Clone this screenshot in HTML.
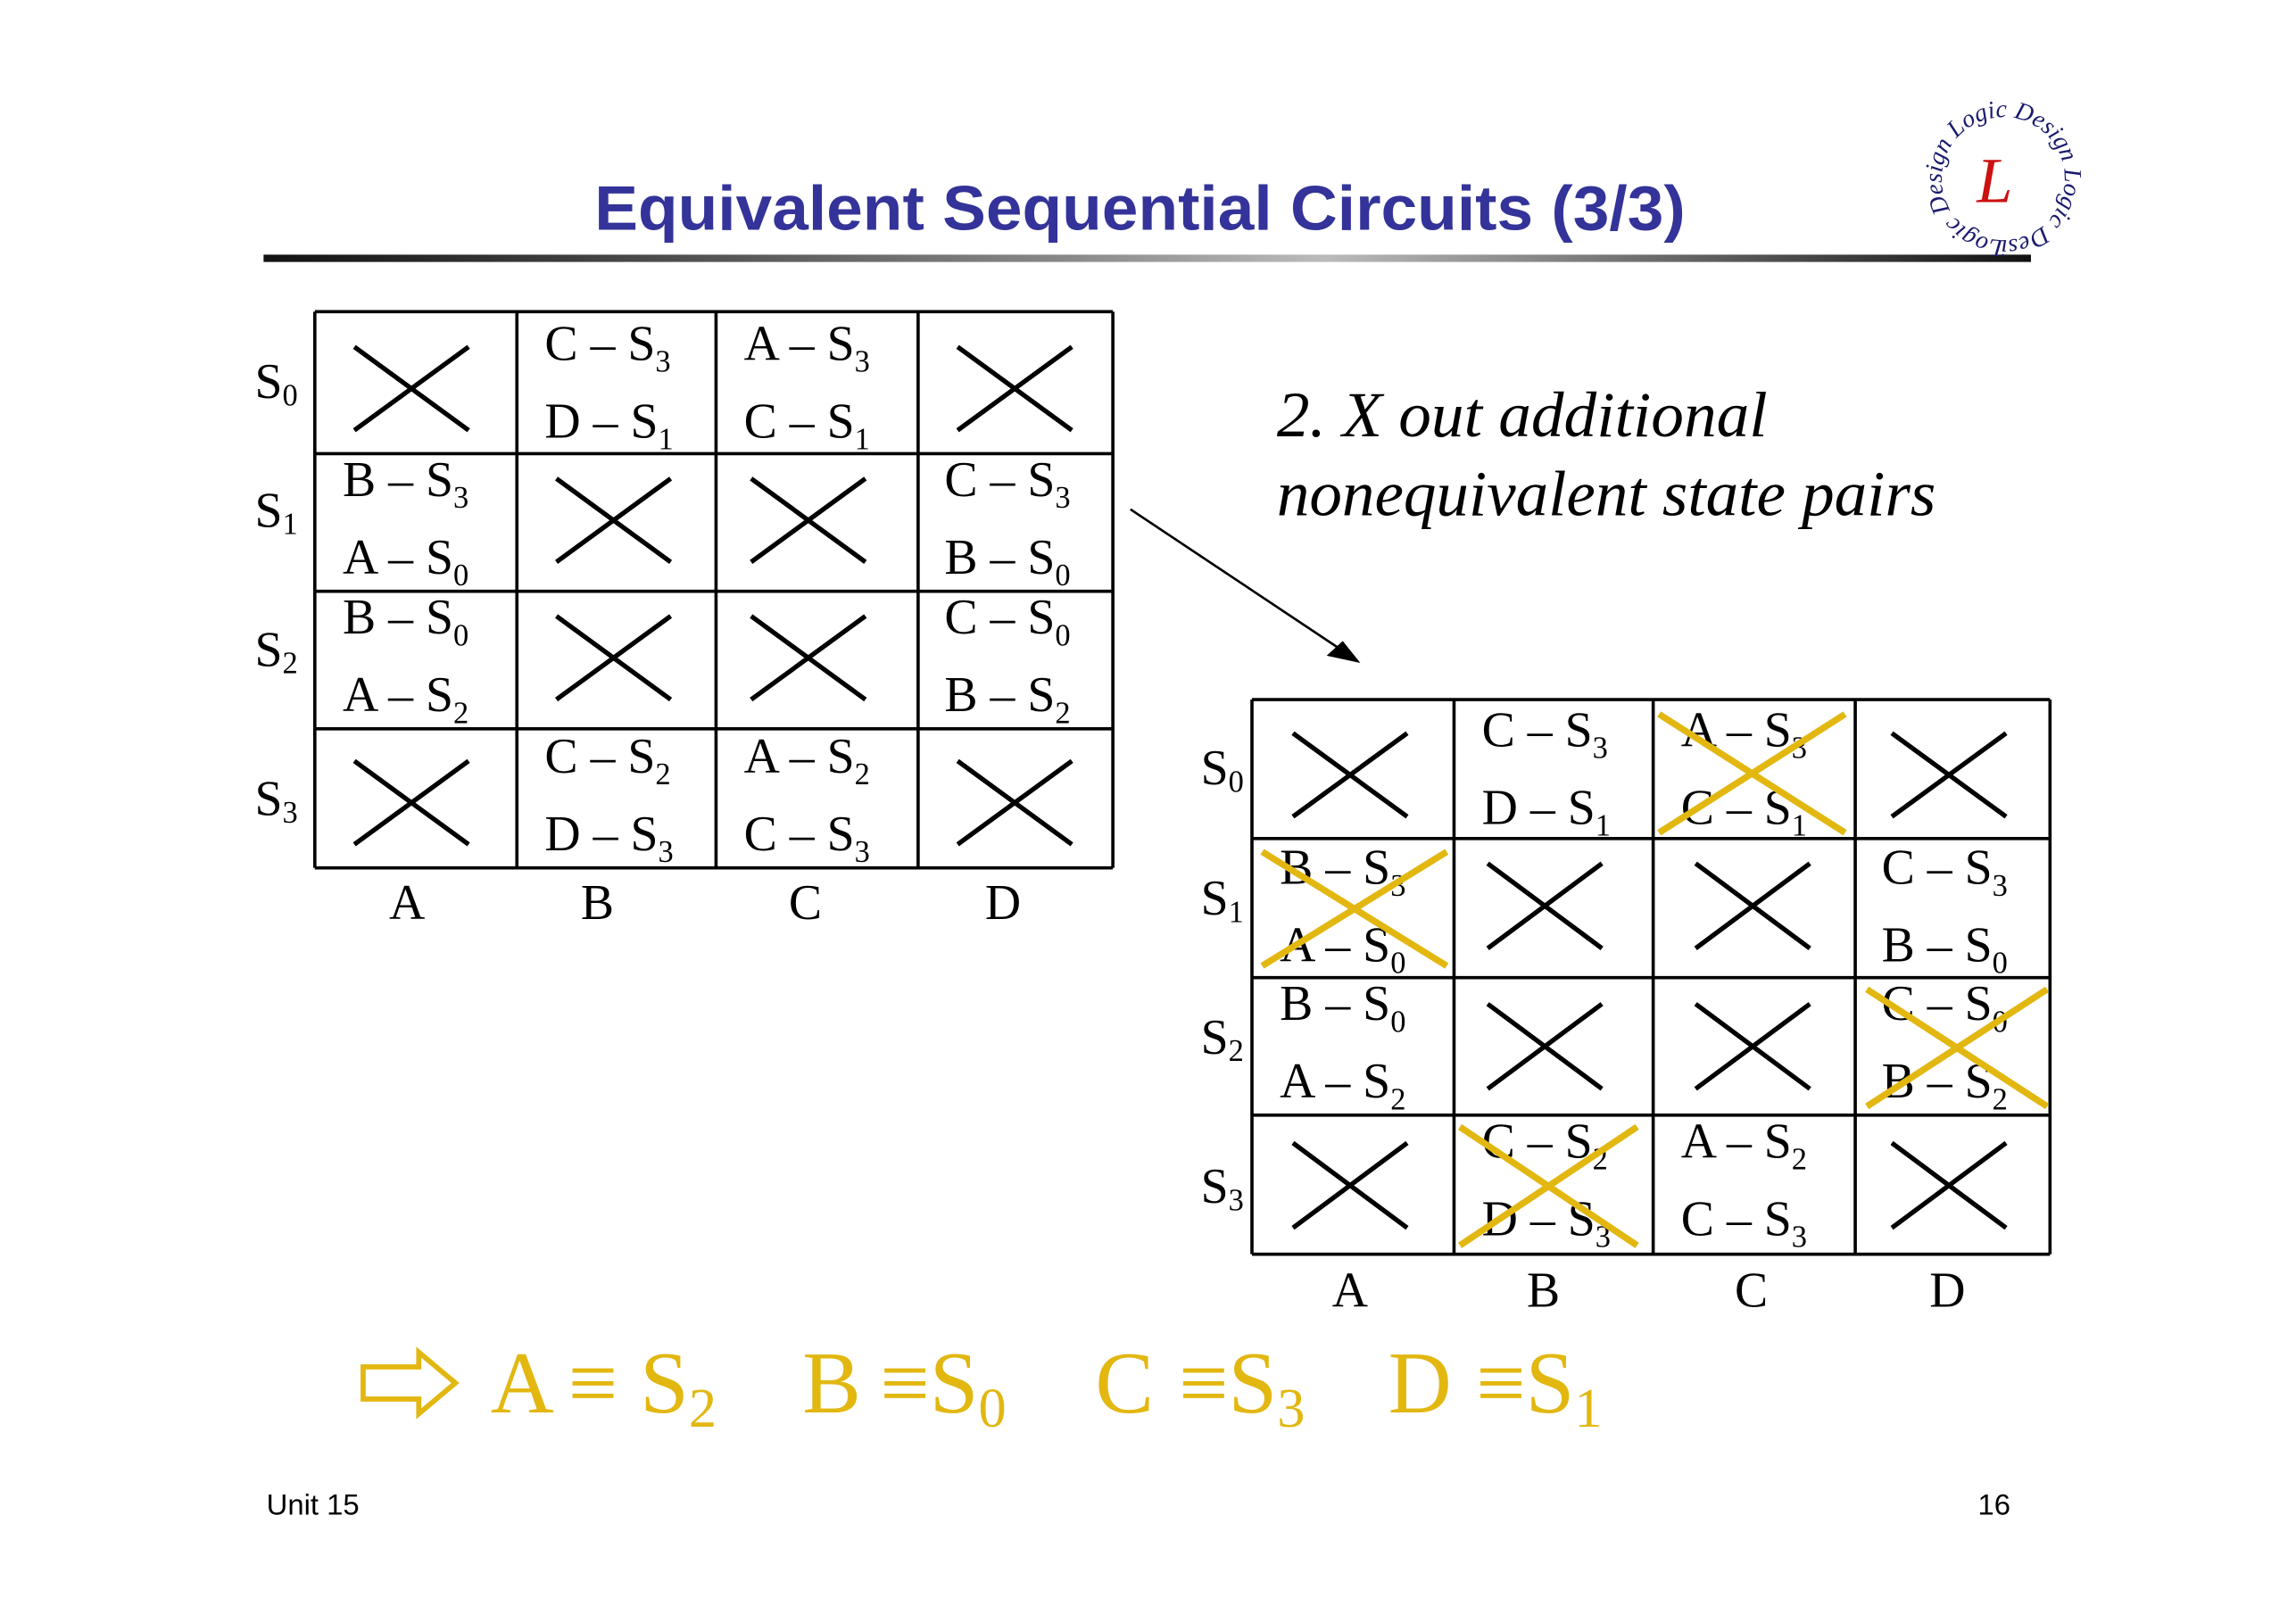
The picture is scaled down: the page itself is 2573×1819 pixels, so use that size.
<!DOCTYPE html>
<html><head><meta charset="utf-8"><style>
html,body{margin:0;padding:0;background:#fff;}
svg{display:block;}
.t{font-family:"Liberation Serif",serif;font-size:34px;fill:#000;}
.s{font-size:21px;}
.x{stroke:#000;stroke-width:3.2;}
.y{stroke:#E2B710;stroke-width:4.5;}
.g{stroke:#000;stroke-width:2.2;fill:none;}
.yl{font-family:"Liberation Serif",serif;fill:#E2B710;font-size:60px;}
</style></head><body>
<svg width="2573" height="1819" viewBox="0 0 1568 1109" preserveAspectRatio="none" xmlns="http://www.w3.org/2000/svg">
<defs>
<linearGradient id="lg" x1="0" x2="1" y1="0" y2="0">
<stop offset="0" stop-color="#111"/><stop offset="0.45" stop-color="#888"/><stop offset="0.6" stop-color="#bbb"/><stop offset="1" stop-color="#111"/>
</linearGradient>
<path id="circ" d="M1368,164 a42,42 0 1,1 0.1,0"/>
</defs>
<rect width="1568" height="1109" fill="#fff"/>
<text x="406" y="157" font-family="Liberation Sans, sans-serif" font-weight="bold" font-size="43" fill="#333399" textLength="745" lengthAdjust="spacingAndGlyphs">Equivalent Sequential Circuits (3/3)</text>
<rect x="180" y="174" width="1207" height="5" fill="url(#lg)"/>
<text font-family="Liberation Serif, serif" font-style="italic" font-size="17" fill="#1a1a6e"><textPath href="#circ">Logic Design Logic Design Logic Design</textPath></text>
<text x="1350" y="138" font-family="Liberation Serif, serif" font-style="italic" font-size="44" fill="#cc1111">L</text>

<g class="g">
<line x1="215" y1="213" x2="760" y2="213"/><line x1="215" y1="310" x2="760" y2="310"/><line x1="215" y1="404" x2="760" y2="404"/><line x1="215" y1="498" x2="760" y2="498"/><line x1="215" y1="593" x2="760" y2="593"/>
<line x1="215" y1="213" x2="215" y2="593"/><line x1="353" y1="213" x2="353" y2="593"/><line x1="489" y1="213" x2="489" y2="593"/><line x1="627" y1="213" x2="627" y2="593"/><line x1="760" y1="213" x2="760" y2="593"/>
</g>
<g class="x">
<line x1="242" y1="237" x2="320" y2="294"/><line x1="242" y1="294" x2="320" y2="237"/>
<line x1="654" y1="237" x2="732" y2="294"/><line x1="654" y1="294" x2="732" y2="237"/>
<line x1="380" y1="327" x2="458" y2="384"/><line x1="380" y1="384" x2="458" y2="327"/>
<line x1="513" y1="327" x2="591" y2="384"/><line x1="513" y1="384" x2="591" y2="327"/>
<line x1="380" y1="421" x2="458" y2="478"/><line x1="380" y1="478" x2="458" y2="421"/>
<line x1="513" y1="421" x2="591" y2="478"/><line x1="513" y1="478" x2="591" y2="421"/>
<line x1="242" y1="520" x2="320" y2="577"/><line x1="242" y1="577" x2="320" y2="520"/>
<line x1="654" y1="520" x2="732" y2="577"/><line x1="654" y1="577" x2="732" y2="520"/>
</g>
<g class="t">
<text x="372" y="246">C – S<tspan class="s" dy="8">3</tspan></text>
<text x="372" y="299">D – S<tspan class="s" dy="8">1</tspan></text>
<text x="508" y="246">A – S<tspan class="s" dy="8">3</tspan></text>
<text x="508" y="299">C – S<tspan class="s" dy="8">1</tspan></text>
<text x="234" y="339">B – S<tspan class="s" dy="8">3</tspan></text>
<text x="234" y="392">A – S<tspan class="s" dy="8">0</tspan></text>
<text x="645" y="339">C – S<tspan class="s" dy="8">3</tspan></text>
<text x="645" y="392">B – S<tspan class="s" dy="8">0</tspan></text>
<text x="234" y="433">B – S<tspan class="s" dy="8">0</tspan></text>
<text x="234" y="486">A – S<tspan class="s" dy="8">2</tspan></text>
<text x="645" y="433">C – S<tspan class="s" dy="8">0</tspan></text>
<text x="645" y="486">B – S<tspan class="s" dy="8">2</tspan></text>
<text x="372" y="528">C – S<tspan class="s" dy="8">2</tspan></text>
<text x="372" y="581">D – S<tspan class="s" dy="8">3</tspan></text>
<text x="508" y="528">A – S<tspan class="s" dy="8">2</tspan></text>
<text x="508" y="581">C – S<tspan class="s" dy="8">3</tspan></text>
<text x="174" y="272">S<tspan class="s" dy="5">0</tspan></text>
<text x="174" y="360">S<tspan class="s" dy="5">1</tspan></text>
<text x="174" y="455">S<tspan class="s" dy="5">2</tspan></text>
<text x="174" y="557">S<tspan class="s" dy="5">3</tspan></text>
<text x="278" y="628" text-anchor="middle">A</text>
<text x="408" y="628" text-anchor="middle">B</text>
<text x="550" y="628" text-anchor="middle">C</text>
<text x="685" y="628" text-anchor="middle">D</text>
</g>

<line x1="772" y1="348" x2="925" y2="450" stroke="#000" stroke-width="1.6"/>
<path d="M929,453 L906,448 L917,438 Z" fill="#000"/>

<text x="872" y="298" font-family="Liberation Serif, serif" font-style="italic" font-size="44" textLength="335" lengthAdjust="spacingAndGlyphs">2. X out additional</text>
<text x="872" y="352" font-family="Liberation Serif, serif" font-style="italic" font-size="44" textLength="450" lengthAdjust="spacingAndGlyphs">nonequivalent state pairs</text>

<g class="g">
<line x1="855" y1="478" x2="1400" y2="478"/><line x1="855" y1="573" x2="1400" y2="573"/><line x1="855" y1="668" x2="1400" y2="668"/><line x1="855" y1="762" x2="1400" y2="762"/><line x1="855" y1="857" x2="1400" y2="857"/>
<line x1="855" y1="478" x2="855" y2="857"/><line x1="993" y1="478" x2="993" y2="857"/><line x1="1129" y1="478" x2="1129" y2="857"/><line x1="1267" y1="478" x2="1267" y2="857"/><line x1="1400" y1="478" x2="1400" y2="857"/>
</g>
<g class="x">
<line x1="883" y1="501" x2="961" y2="558"/><line x1="883" y1="558" x2="961" y2="501"/>
<line x1="1292" y1="501" x2="1370" y2="558"/><line x1="1292" y1="558" x2="1370" y2="501"/>
<line x1="1016" y1="590" x2="1094" y2="648"/><line x1="1016" y1="648" x2="1094" y2="590"/>
<line x1="1158" y1="590" x2="1236" y2="648"/><line x1="1158" y1="648" x2="1236" y2="590"/>
<line x1="1016" y1="686" x2="1094" y2="744"/><line x1="1016" y1="744" x2="1094" y2="686"/>
<line x1="1158" y1="686" x2="1236" y2="744"/><line x1="1158" y1="744" x2="1236" y2="686"/>
<line x1="883" y1="781" x2="961" y2="839"/><line x1="883" y1="839" x2="961" y2="781"/>
<line x1="1292" y1="781" x2="1370" y2="839"/><line x1="1292" y1="839" x2="1370" y2="781"/>
</g>
<g class="t">
<text x="1012" y="510">C – S<tspan class="s" dy="8">3</tspan></text>
<text x="1012" y="563">D – S<tspan class="s" dy="8">1</tspan></text>
<text x="1148" y="510">A – S<tspan class="s" dy="8">3</tspan></text>
<text x="1148" y="563">C – S<tspan class="s" dy="8">1</tspan></text>
<text x="874" y="604">B – S<tspan class="s" dy="8">3</tspan></text>
<text x="874" y="657">A – S<tspan class="s" dy="8">0</tspan></text>
<text x="1285" y="604">C – S<tspan class="s" dy="8">3</tspan></text>
<text x="1285" y="657">B – S<tspan class="s" dy="8">0</tspan></text>
<text x="874" y="697">B – S<tspan class="s" dy="8">0</tspan></text>
<text x="874" y="750">A – S<tspan class="s" dy="8">2</tspan></text>
<text x="1285" y="697">C – S<tspan class="s" dy="8">0</tspan></text>
<text x="1285" y="750">B – S<tspan class="s" dy="8">2</tspan></text>
<text x="1012" y="791">C – S<tspan class="s" dy="8">2</tspan></text>
<text x="1012" y="844">D – S<tspan class="s" dy="8">3</tspan></text>
<text x="1148" y="791">A – S<tspan class="s" dy="8">2</tspan></text>
<text x="1148" y="844">C – S<tspan class="s" dy="8">3</tspan></text>
<text x="820" y="536">S<tspan class="s" dy="5">0</tspan></text>
<text x="820" y="625">S<tspan class="s" dy="5">1</tspan></text>
<text x="820" y="720">S<tspan class="s" dy="5">2</tspan></text>
<text x="820" y="822">S<tspan class="s" dy="5">3</tspan></text>
<text x="922" y="893" text-anchor="middle">A</text>
<text x="1054" y="893" text-anchor="middle">B</text>
<text x="1196" y="893" text-anchor="middle">C</text>
<text x="1330" y="893" text-anchor="middle">D</text>
</g>
<g class="y">
<line x1="1133" y1="488" x2="1260" y2="569"/><line x1="1133" y1="569" x2="1260" y2="488"/>
<line x1="862" y1="582" x2="988" y2="660"/><line x1="862" y1="660" x2="988" y2="582"/>
<line x1="1275" y1="676" x2="1398" y2="756"/><line x1="1275" y1="756" x2="1398" y2="676"/>
<line x1="997" y1="770" x2="1118" y2="851"/><line x1="997" y1="851" x2="1118" y2="770"/>
</g>

<path d="M248,934 L286,934 L286,924 L311,945 L286,966 L286,956 L248,956 Z" fill="none" stroke="#E2B710" stroke-width="3.5"/>
<g class="yl">
<text x="335" y="965">A</text>
<text x="388" y="965">≡</text>
<text x="437" y="965">S<tspan font-size="38" dy="10">2</tspan></text>
<text x="548" y="965">B</text>
<text x="601" y="965">≡S<tspan font-size="38" dy="10">0</tspan></text>
<text x="748" y="965">C</text>
<text x="805" y="965">≡S<tspan font-size="38" dy="10">3</tspan></text>
<text x="948" y="965">D</text>
<text x="1008" y="965">≡S<tspan font-size="38" dy="10">1</tspan></text>
</g>

<text x="182" y="1035" font-family="Liberation Sans, sans-serif" font-size="20">Unit 15</text>
<text x="1373" y="1035" text-anchor="end" font-family="Liberation Sans, sans-serif" font-size="20">16</text>
</svg>
</body></html>
